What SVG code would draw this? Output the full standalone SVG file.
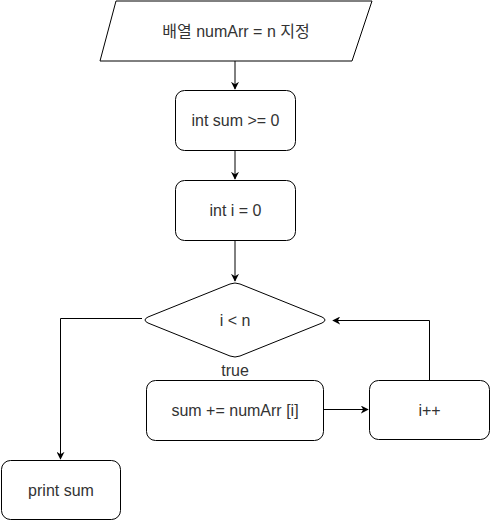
<svg xmlns="http://www.w3.org/2000/svg" width="490" height="521" viewBox="0 0 490 521">
<defs>
<style>
.s{fill:#fff;stroke:#000;stroke-width:1}
.t{font-family:"Liberation Sans","Noto Sans CJK KR",sans-serif;font-size:16px;fill:#333;text-anchor:middle;dominant-baseline:central}
.c{fill:none;stroke:#000;stroke-width:1}
</style>
<marker id="a" viewBox="0 0 10 10" refX="9" refY="5" markerWidth="8" markerHeight="8" orient="auto" markerUnits="userSpaceOnUse"><path d="M0,0 L10,5 L0,10 L3,5 Z" fill="#000"/></marker>
</defs>
<g id="connectors">
<path class="c" d="M235,61 V89" marker-end="url(#a)"/>
<path class="c" d="M235,150 V179" marker-end="url(#a)"/>
<path class="c" d="M235,240 V281" marker-end="url(#a)"/>
<path class="c" d="M142,318.5 H60.5 V459" marker-end="url(#a)"/>
<path class="c" d="M324,409.5 H368" marker-end="url(#a)"/>
<path class="c" d="M429.5,380 V320.5 H333" marker-end="url(#a)"/>
</g>
<g id="input">
<path class="s" d="M116,1 H372 L352,61 H100 Z"/>
<text class="t" x="236" y="31">배열 numArr = n 지정</text>
</g>
<g id="sum-init">
<rect class="s" x="175.5" y="90.5" width="120" height="60" rx="9"/>
<text class="t" x="235.5" y="120.5">int sum &gt;= 0</text>
</g>
<g id="i-init">
<rect class="s" x="175.5" y="180.5" width="120" height="60" rx="9"/>
<text class="t" x="235.5" y="210.5">int i = 0</text>
</g>
<g id="cond">
<path class="s" d="M230,284 Q235,282 240,284 L322,317 Q328,320 322,323 L240,356 Q235,358 230,356 L148,323 Q142,320 148,317 Z"/>
<text class="t" x="235" y="320">i &lt; n</text>
<text class="t" x="235" y="370">true</text>
</g>
<g id="sum-add">
<rect class="s" x="146.5" y="380.5" width="177" height="60" rx="9"/>
<text class="t" x="235" y="410.5">sum += numArr [i]</text>
</g>
<g id="inc">
<rect class="s" x="369.5" y="380.5" width="120" height="59" rx="9"/>
<text class="t" x="429.5" y="410">i++</text>
</g>
<g id="print">
<rect class="s" x="1.5" y="460.5" width="119" height="59" rx="9"/>
<text class="t" x="61" y="490">print sum</text>
</g>
</svg>
